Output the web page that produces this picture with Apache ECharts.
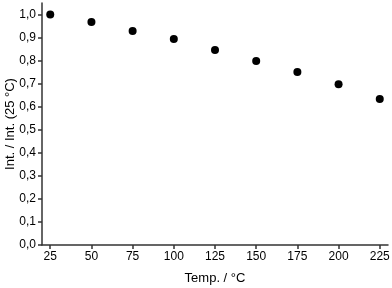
<!DOCTYPE html>
<html>
<head>
<meta charset="utf-8">
<script src="https://cdn.jsdelivr.net/npm/echarts@6/dist/echarts.min.js"></script>
<style>html,body{margin:0;padding:0;background:#fff}#c{width:392px;height:288px}</style>
</head>
<body>
<div id="c"></div>
<script>
var temps = [25, 50, 75, 100, 125, 150, 175, 200, 225];
var intensity = [1.0, 0.968, 0.929, 0.894, 0.846, 0.798, 0.751, 0.697, 0.633];
var xTicks = [25, 50, 75, 100, 125, 150, 175, 200, 225];
var yTicks = [0, 0.1, 0.2, 0.3, 0.4, 0.5, 0.6, 0.7, 0.8, 0.9, 1.0];
var xTitle = 'Temp. / °C';
var yTitle = 'Int. / Int. (25 °C)';

var chart = echarts.init(document.getElementById('c'), null, {renderer: 'canvas'});
var fontFam = '"Liberation Sans", Arial, sans-serif';
chart.setOption({
  animation: false,
  grid: {left: 42, right: 4, top: 3, bottom: 43, containLabel: false, outerBoundsMode: 'none'},
  xAxis: {
    type: 'value', min: 20, max: 230,
    name: xTitle, nameLocation: 'middle', nameGap: 27, nameMoveOverlap: false,
    nameTextStyle: {color: '#000', fontSize: 13, fontFamily: fontFam},
    axisLine: {show: true, lineStyle: {color: '#333', width: 1.5}},
    axisTick: {show: true, length: 4, customValues: xTicks, lineStyle: {color: '#333', width: 1.5}},
    axisLabel: {customValues: xTicks, color: '#000', fontSize: 12, fontFamily: fontFam, margin: 6},
    splitLine: {show: false}
  },
  yAxis: {
    type: 'value', min: 0, max: 1.05,
    name: yTitle, nameLocation: 'middle', nameGap: 25, nameMoveOverlap: false,
    nameTextStyle: {color: '#000', fontSize: 13, fontFamily: fontFam},
    axisLine: {show: true, lineStyle: {color: '#333', width: 1.5}},
    axisTick: {show: true, length: 4, customValues: yTicks, lineStyle: {color: '#333', width: 1.5}},
    axisLabel: {customValues: yTicks, color: '#000', fontSize: 12, fontFamily: fontFam, margin: 6,
      formatter: function (v) { return v.toFixed(1).replace('.', ','); }},
    splitLine: {show: false}
  },
  series: [{
    type: 'scatter',
    data: temps.map(function (t, i) { return [t, intensity[i]]; }),
    symbol: 'circle', symbolSize: 8,
    itemStyle: {color: '#000', opacity: 1}
  }]
});
</script>
</body>
</html>
